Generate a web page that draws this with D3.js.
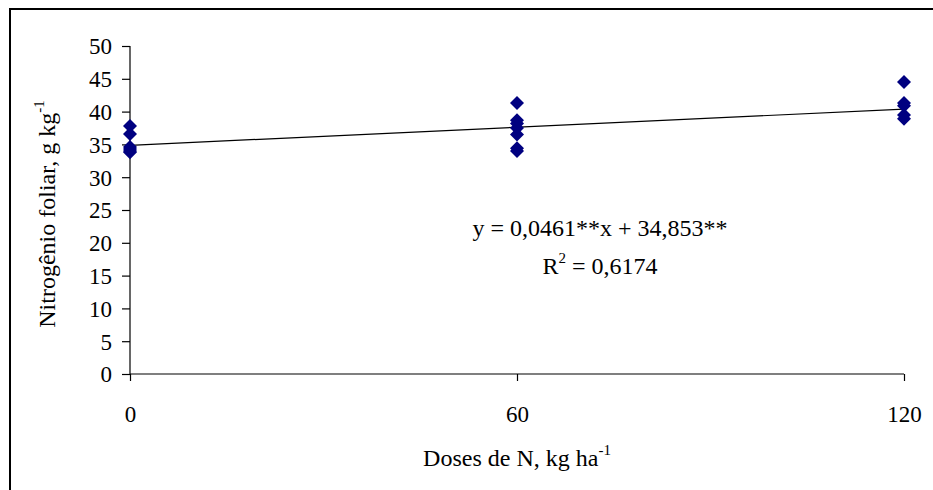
<!DOCTYPE html>
<html>
<head>
<meta charset="utf-8">
<script src="https://cdn.jsdelivr.net/npm/d3@7"></script>
<style>
  body { margin: 0; background: #fff; }
  svg { display: block; font-family: "Liberation Serif", "Times New Roman", serif; }
</style>
</head>
<body>
<div id="chart"></div>
<script>
// doses of N (kg/ha) and leaf N readings (g/kg)
var doses = [0, 60, 120];
var obs0 = [37.8, 36.6, 34.6, 34.3, 34.0, 33.8];
var obs60 = [41.3, 38.7, 38.2, 37.5, 36.5, 34.4, 34.0];
var obs120 = [44.5, 41.3, 40.9, 39.5, 38.9];
var yTicks = [0, 5, 10, 15, 20, 25, 30, 35, 40, 45, 50];
var slope = 0.0461, intercept = 34.853;

var W = 933, H = 490;
var margin = { top: 46, right: 29, bottom: 116, left: 130 };
var width = W - margin.left - margin.right,
    height = H - margin.top - margin.bottom;

var svg = d3.select("#chart").append("svg")
    .attr("width", W)
    .attr("height", H);

// outer frame (runs off the right/bottom edge like the original)
svg.append("rect")
    .attr("x", 10).attr("y", 9)
    .attr("width", W).attr("height", H)
    .attr("fill", "none")
    .attr("stroke", "#000")
    .attr("stroke-width", 2);

var g = svg.append("g")
    .attr("transform", "translate(" + margin.left + "," + margin.top + ")");

var x = d3.scaleLinear().domain([0, 120]).range([0, width]);
var y = d3.scaleLinear().domain([0, 50]).range([height, 0]);

var yAxis = d3.axisLeft(y).tickValues(yTicks).tickSize(8).tickPadding(10);
var xAxis = d3.axisBottom(x).tickValues(doses).tickSize(7).tickPadding(25);

var gy = g.append("g").call(yAxis);
var gx = g.append("g").attr("transform", "translate(0," + height + ")").call(xAxis);

[gx, gy].forEach(function(a) {
  a.select(".domain").attr("stroke", "#000").attr("stroke-width", 1.2);
  a.selectAll(".tick line").attr("stroke", "#000").attr("stroke-width", 1.2);
  a.selectAll(".tick text")
    .attr("font-family", "Liberation Serif, Times New Roman, serif")
    .attr("font-size", 23)
    .attr("fill", "#000");
});
gy.select(".domain").attr("d", "M0," + height + "V0");
gx.select(".domain").attr("d", "M0,0H" + width);
gy.selectAll(".tick text").attr("dy", "0.34em");

// trend line from the fitted equation
g.append("line")
    .attr("x1", x(0)).attr("y1", y(intercept))
    .attr("x2", x(120)).attr("y2", y(intercept + slope * 120))
    .attr("stroke", "#000")
    .attr("stroke-width", 1.2);

var pts = [];
obs0.forEach(function(v) { pts.push({ d: doses[0], v: v }); });
obs60.forEach(function(v) { pts.push({ d: doses[1], v: v }); });
obs120.forEach(function(v) { pts.push({ d: doses[2], v: v }); });

var diamond = d3.symbol().type(d3.symbolSquare).size(98);
g.selectAll(".pt")
  .data(pts)
  .enter().append("path")
    .attr("class", "pt")
    .attr("d", diamond)
    .attr("transform", function(d) {
      return "translate(" + x(d.d) + "," + y(d.v) + ") rotate(45)";
    })
    .attr("fill", "#000080");

// equation
var eq = g.append("text")
    .attr("x", 600 - margin.left)
    .attr("y", 236 - margin.top)
    .attr("text-anchor", "middle")
    .attr("font-size", 24)
    .text("y = 0,0461**x + 34,853**");

var r2 = g.append("text")
    .attr("x", 600 - margin.left)
    .attr("y", 274 - margin.top)
    .attr("text-anchor", "middle")
    .attr("font-size", 24);
r2.append("tspan").text("R");
r2.append("tspan").attr("dy", -11).attr("font-size", 15).text("2");
r2.append("tspan").attr("dy", 11).text(" = 0,6174");

// axis titles
var xt = svg.append("text")
    .attr("x", 517)
    .attr("y", 466)
    .attr("text-anchor", "middle")
    .attr("font-size", 24);
xt.append("tspan").text("Doses de N, kg ha");
xt.append("tspan").attr("dy", -11).attr("font-size", 15).text("-1");

var yt = svg.append("text")
    .attr("transform", "translate(55,214) rotate(-90)")
    .attr("text-anchor", "middle")
    .attr("font-size", 24);
yt.append("tspan").text("Nitrogênio foliar, g kg");
yt.append("tspan").attr("dy", -11).attr("font-size", 15).text("-1");
</script>
</body>
</html>
